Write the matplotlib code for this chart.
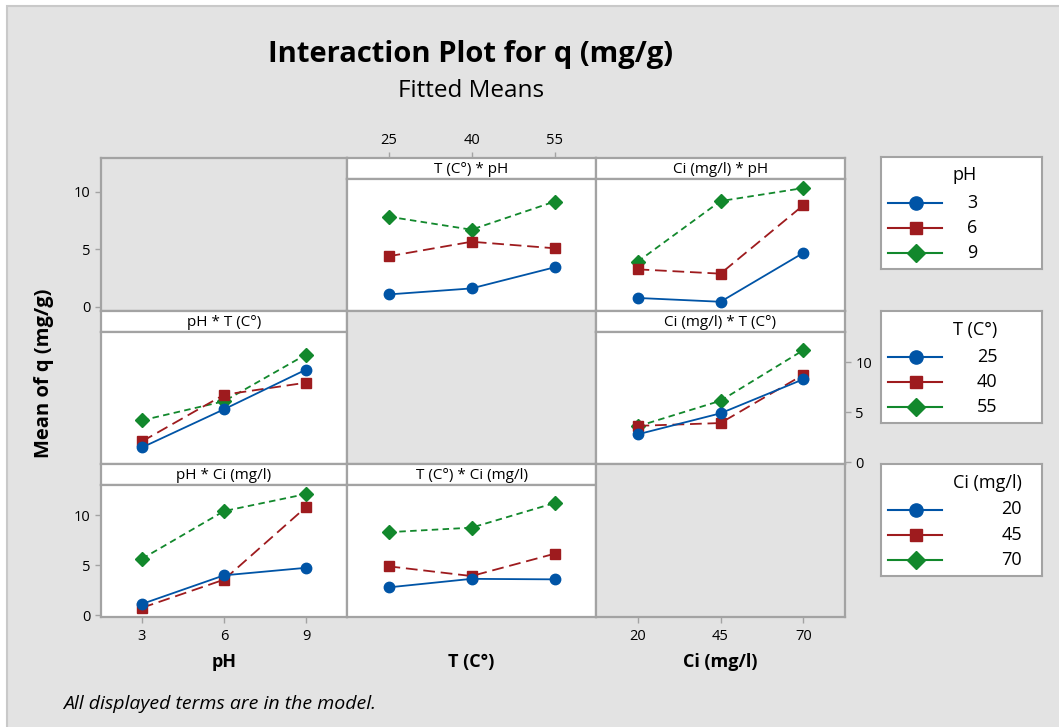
import matplotlib
matplotlib.use('Agg')
import matplotlib.pyplot as plt
from matplotlib.lines import Line2D
from matplotlib.patches import Rectangle

# ---------------- data ----------------
pH_levels = [3, 6, 9]
T_levels = [25, 40, 55]
Ci_levels = [20, 45, 70]

# fitted cell means: rows = levels of first factor, cols = levels of second factor
mean_pH_T = [[1.5, 2.1, 4.2],      # pH 3 at T 25, 40, 55
             [5.3, 6.75, 6.1],     # pH 6
             [9.25, 7.95, 10.75]]  # pH 9
mean_pH_Ci = [[1.15, 0.77, 5.65],  # pH 3 at Ci 20, 45, 70
              [4.0, 3.57, 10.4],
              [4.75, 10.8, 12.1]]
mean_T_Ci = [[2.8, 4.9, 8.3],      # T 25 at Ci 20, 45, 70
             [3.65, 3.93, 8.75],
             [3.6, 6.15, 11.2]]

y_ticks = [0, 5, 10]
title = "Interaction Plot for q (mg/g)"
subtitle = "Fitted Means"
ylabel = "Mean of q (mg/g)"
footnote = "All displayed terms are in the model."
name_pH, name_T, name_Ci = "pH", "T (C°)", "Ci (mg/l)"

# ---------------- style ----------------
W, H = 1059, 727
FONT = ['Open Sans', 'DejaVu Sans']
plt.rcParams['font.family'] = FONT
BG = '#e3e3e3'
EDGE = '#a3a3a3'
colors = ['#0054a6', '#9e1b1e', '#12882c']
dashes = [None, (6.5, 3.2), (3.6, 2.4)]
markers = ['o', 's', 'D']
msizes = [7.5, 6.8, 7.2]
LW = 1.3

fig = plt.figure(figsize=(W / 100, H / 100), dpi=100)
fig.patch.set_facecolor('white')
fig.add_artist(Rectangle((7 / W, -0.01), 1.0, 1 - 6 / H + 0.01, transform=fig.transFigure,
                         facecolor=BG, edgecolor='#c9c9c9', lw=1.5, zorder=-10))


def ax_px(x0, y0, x1, y1, **kw):
    return fig.add_axes([x0 / W, 1 - y1 / H, (x1 - x0) / W, (y1 - y0) / H], **kw)


def style_frame(ax, fc):
    ax.set_facecolor(fc)
    for s in ax.spines.values():
        s.set_color(EDGE)
        s.set_linewidth(1.6)
    ax.tick_params(which='both', length=0, labelleft=False, labelbottom=False)
    ax.set_xticks([])
    ax.set_yticks([])


cols_px = [(101, 347), (347, 596), (596, 845)]
rows_px = [(158, 311), (311, 464), (464, 617)]
HEAD = 21
xlims = {'pH': (1.5, 10.5), 'T': (17.5, 62.5), 'Ci': (7.5, 82.5)}
levels = {'pH': pH_levels, 'T': T_levels, 'Ci': Ci_levels}
names = {'pH': name_pH, 'T': name_T, 'Ci': name_Ci}
DATA_YLIM = (-0.15, 13.0)
TICKKW = dict(direction='out', length=4, width=1, color=EDGE, labelcolor='black', labelsize=10.5)


def series_for(xfac, sfac):
    # returns list of y-series (one per level of sfac) across levels of xfac
    if (xfac, sfac) == ('T', 'pH'):
        return [mean_pH_T[i] for i in range(3)]
    if (xfac, sfac) == ('Ci', 'pH'):
        return [mean_pH_Ci[i] for i in range(3)]
    if (xfac, sfac) == ('pH', 'T'):
        return [[mean_pH_T[k][j] for k in range(3)] for j in range(3)]
    if (xfac, sfac) == ('Ci', 'T'):
        return [mean_T_Ci[i] for i in range(3)]
    if (xfac, sfac) == ('pH', 'Ci'):
        return [[mean_pH_Ci[k][j] for k in range(3)] for j in range(3)]
    if (xfac, sfac) == ('T', 'Ci'):
        return [[mean_T_Ci[k][j] for k in range(3)] for j in range(3)]


factor_of_row = ['pH', 'T', 'Ci']
factor_of_col = ['pH', 'T', 'Ci']
data_axes = {}
empty_axes = {}
head_axes = {}
for r in range(3):
    for c in range(3):
        x0, x1 = cols_px[c]
        y0, y1 = rows_px[r]
        if r == c:
            ax = ax_px(x0, y0, x1, y1)
            style_frame(ax, BG)
            empty_axes[r] = ax
            continue
        xfac = factor_of_col[c]
        sfac = factor_of_row[r]
        hax = ax_px(x0, y0, x1, y0 + HEAD)
        style_frame(hax, 'white')
        hax.text(0.5, 0.45, f"{names[xfac]} * {names[sfac]}", ha='center', va='center',
                 fontsize=11, transform=hax.transAxes)
        head_axes[(r, c)] = hax
        ax = ax_px(x0, y0 + HEAD, x1, y1)
        style_frame(ax, 'white')
        ax.set_xlim(*xlims[xfac])
        ax.set_ylim(*DATA_YLIM)
        xs = levels[xfac]
        for k, ys in enumerate(series_for(xfac, sfac)):
            ln, = ax.plot(xs, ys, color=colors[k], lw=LW, marker=markers[k],
                          ms=msizes[k], mec=colors[k], mfc=colors[k], zorder=3 + (2 - k) * 0.1)
            if dashes[k] is not None:
                ln.set_dashes(dashes[k])
        data_axes[(r, c)] = ax
        hax.set_xlim(*xlims[xfac])

# row 0 left axis (on empty pH cell)
a = empty_axes[0]
a.set_ylim(-0.37, 12.93)
a.set_yticks(y_ticks)
a.tick_params(axis='y', left=True, labelleft=True, **TICKKW)
# row 1 right axis
a = data_axes[(1, 2)]
a.set_yticks(y_ticks)
a.yaxis.tick_right()
a.tick_params(axis='y', right=True, labelright=True, **TICKKW)
# row 2 left axis
a = data_axes[(2, 0)]
a.set_yticks(y_ticks)
a.tick_params(axis='y', left=True, labelleft=True, **TICKKW)
# pH bottom axis
a = data_axes[(2, 0)]
a.set_xticks(pH_levels)
a.tick_params(axis='x', bottom=True, labelbottom=True, pad=5, **TICKKW)
# T top axis
a = head_axes[(0, 1)]
a.set_xticks(T_levels)
a.xaxis.tick_top()
a.tick_params(axis='x', top=True, labeltop=True, **TICKKW)
# Ci bottom axis
a = empty_axes[2]
a.set_xlim(*xlims['Ci'])
a.set_xticks(Ci_levels)
a.tick_params(axis='x', bottom=True, labelbottom=True, pad=5, **TICKKW)

# axis names
for c, fac in enumerate(factor_of_col):
    x0, x1 = cols_px[c]
    fig.text(((x0 + x1) / 2) / W, 1 - 662 / H, names[fac], ha='center', va='center',
             fontsize=13, fontweight='bold')
fig.text(44 / W, 1 - 373 / H, ylabel, rotation=90, ha='center', va='center',
         fontsize=14.5, fontweight='bold')

# titles
fig.text(471 / W, 1 - 62 / H, title, ha='center', va='baseline', fontsize=21, fontweight='bold')
fig.text(471 / W, 1 - 97 / H, subtitle, ha='center', va='baseline', fontsize=17.5)
fig.text(63 / W, 1 - 704 / H, footnote, ha='left', va='center', fontsize=14, style='italic')

# legends
legend_tops = [157, 311, 464]
fig.canvas.draw()
renderer = fig.canvas.get_renderer()
for r, fac in enumerate(factor_of_row):
    top = legend_tops[r]
    lax = ax_px(881, top, 1042, top + 112)
    lax.set_facecolor('white')
    for s in lax.spines.values():
        s.set_color(EDGE)
        s.set_linewidth(1.5)
    lax.set_xticks([])
    lax.set_yticks([])
    lax.set_xlim(881, 1042)
    lax.set_ylim(top + 112, top)
    t = lax.text(953, top + 18.5, names[fac], ha='left', va='center', fontsize=13)
    bb = t.get_window_extent(renderer=renderer)
    right_px = bb.x1  # display coords (pixels)
    x_right = lax.transData.inverted().transform((right_px, 0))[0]
    for k, lev in enumerate(levels[fac]):
        yy = top + 45.5 + 25.3 * k
        ln = Line2D([888, 942], [yy, yy], color=colors[k], lw=LW + 0.2)
        lax.add_line(ln)
        lax.plot([916], [yy], marker=markers[k], ms=msizes[k] + 2, color=colors[k])
        lax.text(x_right, yy, str(lev), ha='right', va='center', fontsize=13)

fig.savefig('out.png', dpi=100, facecolor=fig.get_facecolor())
